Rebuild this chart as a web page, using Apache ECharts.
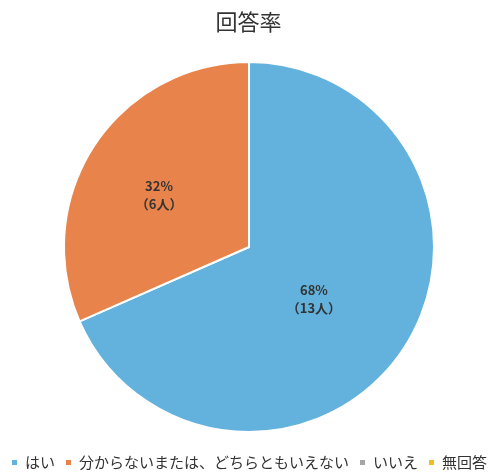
<!DOCTYPE html>
<html>
<head>
<meta charset="utf-8">
<style>
    html, body { margin: 0; padding: 0; background: #fff; }
    #chart { width: 497px; height: 473px; }
</style>
</head>
<body>
<div id="chart"></div>
<script src="https://cdn.jsdelivr.net/npm/echarts@6/dist/echarts.min.js"></script>
<script>
    // 回答率データ
    var categories = ['はい', '分からないまたは、どちらともいえない', 'いいえ', '無回答'];
    var counts = [13, 6, 0, 0];
    var percents = [68, 32, 0, 0];
    var colors = ['#62b2dd', '#e8844b', '#a5a5a5', '#f2bd1c'];

    // ラベル位置の微調整（Excel風の配置に寄せる）
    var labelPads = [[2, 30, 0, 0], [12, 20, 0, 0], [0, 0, 0, 0], [0, 0, 0, 0]];

    var pieData = categories.map(function (name, i) {
        return {
            name: name,
            value: counts[i],
            pct: percents[i],
            label: { padding: labelPads[i] }
        };
    });

    var option = {
        textStyle: { fontFamily: '"Noto Sans CJK JP", sans-serif' },
        color: colors,
        title: {
            text: '回答率',
            left: 'center',
            top: 6,
            textStyle: { fontSize: 22, fontWeight: 'normal', color: '#333' }
        },
        legend: {
            top: 450,
            left: 'center',
            itemWidth: 7,
            itemHeight: 7,
            itemGap: 9,
            icon: 'rect',
            textStyle: { fontSize: 15, color: '#333', padding: [0, 0, 0, 2] },
            data: categories
        },
        series: [{
            name: '回答率',
            type: 'pie',
            radius: 185,
            center: [249, 247],
            startAngle: 90,
            clockwise: true,
            avoidLabelOverlap: false,
            itemStyle: { borderColor: '#fff', borderWidth: 2 },
            label: {
                position: 'inside',
                formatter: function (p) {
                    if (!p.value) return '';
                    return p.data.pct + '%\n（' + p.value + '人）';
                },
                fontSize: 13,
                fontWeight: 'bold',
                lineHeight: 18,
                color: '#333'
            },
            labelLine: { show: false },
            emphasis: { disabled: true },
            data: pieData
        }]
    };

    echarts.init(document.getElementById('chart')).setOption(option);
</script>
</body>
</html>
